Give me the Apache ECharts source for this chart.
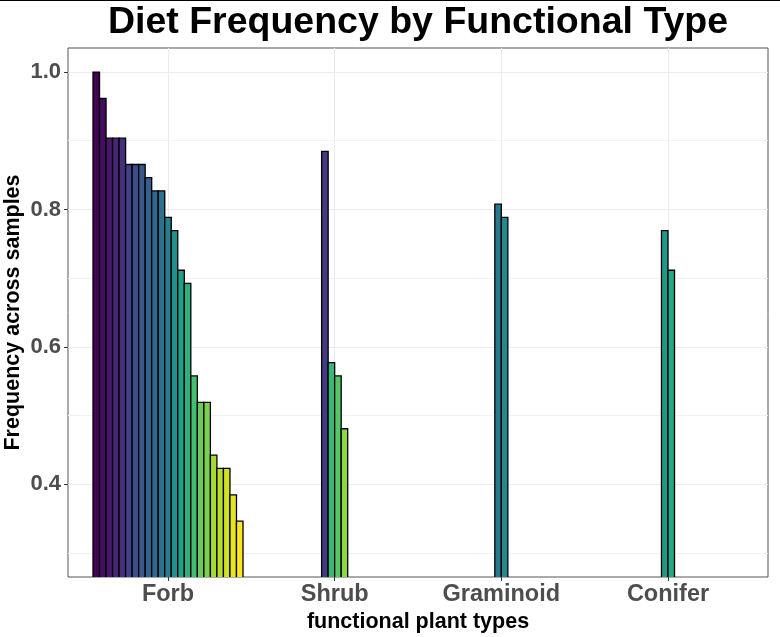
<!DOCTYPE html>
<html>
<head>
<meta charset="utf-8">
<script src="https://cdn.jsdelivr.net/npm/echarts@6/dist/echarts.min.js"></script>
<style>
html,body{margin:0;padding:0;background:#fff;}
#chart{width:780px;height:637px;}
</style>
</head>
<body>
<div id="chart"></div>
<script>
// ---- data ----
const categories = ['Forb', 'Shrub', 'Graminoid', 'Conifer'];
const forbValues = [1.0000, 0.9615, 0.9038, 0.9038, 0.9038, 0.8654, 0.8654, 0.8654, 0.8462, 0.8269, 0.8269,
  0.7885, 0.7692, 0.7115, 0.6923, 0.5577, 0.5192, 0.5192, 0.4423, 0.4231, 0.4231, 0.3846, 0.3462];
const shrubValues = [0.8846, 0.5769, 0.5577, 0.4808];
const graminoidValues = [0.8077, 0.7885];
const coniferValues = [0.7692, 0.7115];
const yTickValues = [0.4, 0.6, 0.8, 1.0];
const yMinorValues = [0.3, 0.5, 0.7, 0.9];
const titleText = 'Diet Frequency by Functional Type';
const xTitle = 'functional plant types';
const yTitle = 'Frequency across samples';

// ---- palette (viridis) ----
const VIRIDIS = ['#440154', '#482576', '#414487', '#35608D', '#2A788E', '#21908C', '#22A884', '#43BF71', '#7AD151', '#BBDF27', '#FDE725'];
function hexToRgb(h) { return [parseInt(h.slice(1, 3), 16), parseInt(h.slice(3, 5), 16), parseInt(h.slice(5, 7), 16)]; }
function viridis(t) {
  t = Math.max(0, Math.min(1, t));
  const s = t * (VIRIDIS.length - 1);
  const i = Math.min(Math.floor(s), VIRIDIS.length - 2);
  const f = s - i;
  const a = hexToRgb(VIRIDIS[i]), b = hexToRgb(VIRIDIS[i + 1]);
  const c = a.map((v, k) => Math.round(v + (b[k] - v) * f));
  return 'rgb(' + c.join(',') + ')';
}

// ---- build bar items ----
const groups = [forbValues, shrubValues, graminoidValues, coniferValues];
const maxN = Math.max(...groups.map(g => g.length));
const slot = 0.9 / maxN;
const items = [];
groups.forEach((g, ci) => g.forEach((v, j) => items.push({ cat: ci, v: v, j: j, n: g.length })));
const order = items.map((d, i) => i).sort((a, b) => items[b].v - items[a].v || a - b);
order.forEach((idx, r) => { items[idx].t = r / (items.length - 1); });
const barData = items.map(d => [d.cat, d.v, d.j, d.n, d.t]);

const FONT = "'Liberation Sans', Arial, sans-serif";
const GRID = { left: 68, right: 12, top: 48, bottom: 60 };
const chart = echarts.init(document.getElementById('chart'), null, { renderer: 'canvas' });

const option = {
  backgroundColor: '#fff',
  animation: false,
  graphic: [
    { type: 'rect', shape: { x: 0, y: 0, width: 780, height: 1 }, style: { fill: '#000' } },
    {
      type: 'text', x: GRID.left + (780 - GRID.left - GRID.right) / 2, y: 23,
      style: {
        text: titleText, align: 'center', verticalAlign: 'middle',
        font: 'bold 37.5px ' + FONT, fill: '#000'
      }
    },
    {
      type: 'text', x: 13, y: GRID.top + (637 - GRID.top - GRID.bottom) / 2, rotation: Math.PI / 2,
      style: {
        text: yTitle, align: 'center', verticalAlign: 'middle',
        font: 'bold 21.5px ' + FONT, fill: '#000'
      }
    }
  ],
  grid: {
    left: GRID.left, right: GRID.right, top: GRID.top, bottom: GRID.bottom,
    outerBoundsMode: 'none', containLabel: false,
    show: true, borderColor: '#555', borderWidth: 1, backgroundColor: 'transparent'
  },
  xAxis: {
    type: 'value', min: 0.4, max: 4.6,
    name: xTitle, nameLocation: 'middle', nameGap: 30,
    nameTextStyle: { fontFamily: FONT, fontWeight: 'bold', fontSize: 21.5, color: '#000', lineHeight: 21 },
    axisLine: { show: false },
    axisTick: { show: true, customValues: [1, 2, 3, 4], length: 4, lineStyle: { color: '#333', width: 1 } },
    axisLabel: {
      customValues: [1, 2, 3, 4], margin: 6,
      formatter: v => categories[Math.round(v) - 1] || '',
      fontFamily: FONT, fontWeight: 'bold', fontSize: 23.5, color: '#4D4D4D', lineHeight: 23
    },
    splitLine: { show: true, lineStyle: { color: '#EBEBEB', width: 1 } }
  },
  yAxis: [{
    type: 'value', min: 0.265, max: 1.035,
    axisLine: { show: false },
    axisTick: { show: true, customValues: yTickValues, length: 4, lineStyle: { color: '#333', width: 1 } },
    axisLabel: {
      customValues: yTickValues, margin: 7,
      formatter: v => v.toFixed(1),
      fontFamily: FONT, fontWeight: 'bold', fontSize: 22, color: '#4D4D4D'
    },
    splitLine: { show: true, lineStyle: { color: '#EBEBEB', width: 1 } }
  }, {
    type: 'value', min: 0.265, max: 1.035, position: 'left',
    axisLine: { show: false },
    axisTick: { show: false, customValues: yMinorValues },
    axisLabel: { show: false, customValues: yMinorValues },
    splitLine: { show: true, lineStyle: { color: '#F2F2F2', width: 1 } }
  }],
  series: [{
    type: 'custom',
    xAxisIndex: 0, yAxisIndex: 0,
    clip: true,
    data: barData,
    renderItem: function (params, api) {
      const cat = api.value(0), v = api.value(1), j = api.value(2), n = api.value(3), t = api.value(4);
      const center = cat + 1 + (j - (n - 1) / 2) * slot;
      const p1 = api.coord([center - slot / 2, v]);
      const p2 = api.coord([center + slot / 2, 0]);
      const rect = echarts.graphic.clipRectByRect(
        { x: p1[0], y: p1[1], width: p2[0] - p1[0], height: p2[1] - p1[1] },
        { x: params.coordSys.x, y: params.coordSys.y, width: params.coordSys.width, height: params.coordSys.height + 1 }
      );
      if (!rect) return;
      return {
        type: 'rect', shape: rect,
        style: { fill: viridis(t), stroke: '#000', lineWidth: 1.3 }
      };
    }
  }]
};
chart.setOption(option);
</script>
</body>
</html>
